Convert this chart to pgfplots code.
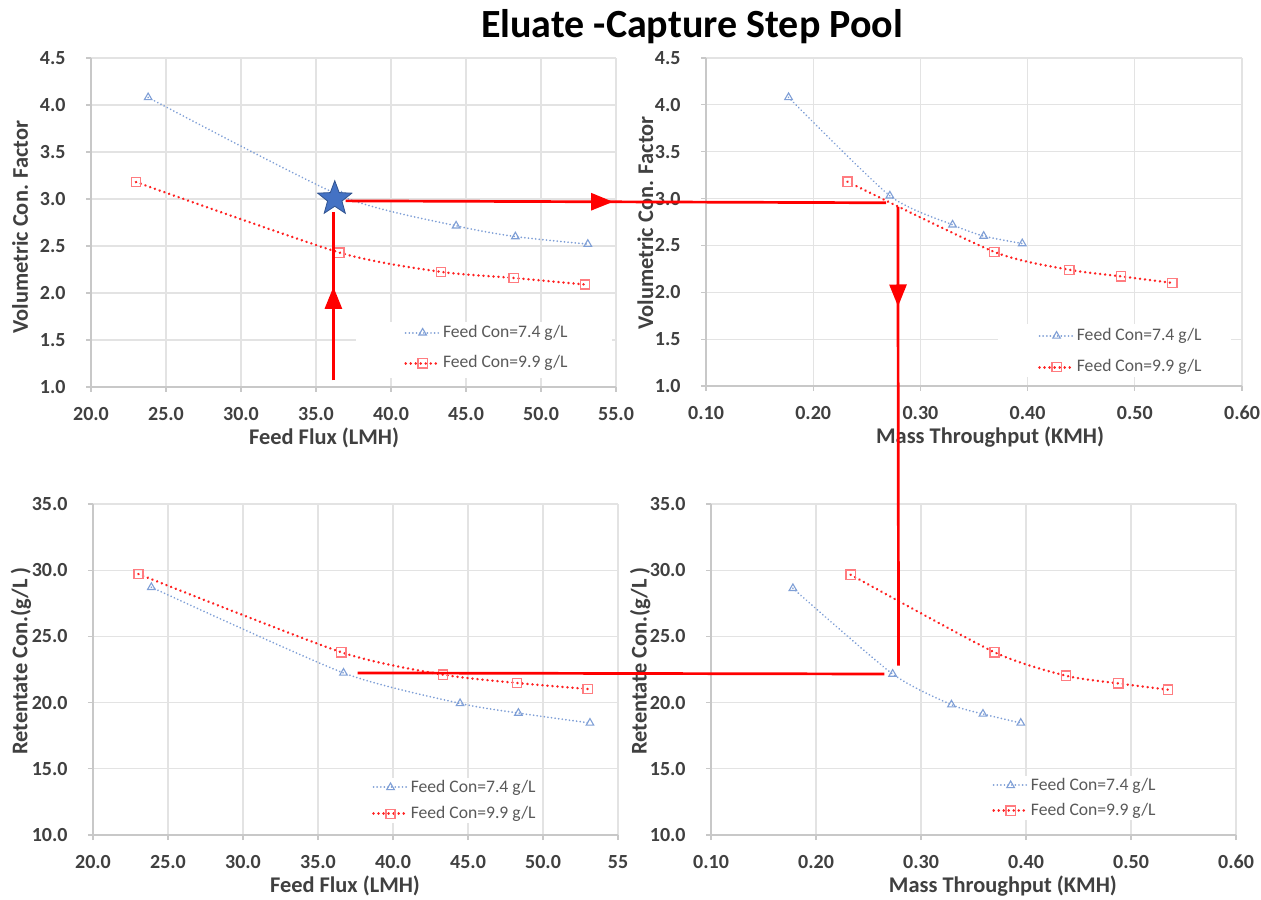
\documentclass[border=0pt]{standalone}
\usepackage{fontspec}
\setmainfont{Carlito}
\usepackage{pgfplots}
\pgfplotsset{compat=1.18}
\usetikzlibrary{arrows.meta,decorations.markings}
\definecolor{gridc}{HTML}{E3E3E3}
\definecolor{axc}{HTML}{C8C8C8}
\definecolor{txt}{HTML}{404040}
\definecolor{legtxt}{HTML}{595959}
\definecolor{sblue}{HTML}{7F9FD6}
\definecolor{sred}{HTML}{FF2020}
\definecolor{mred}{HTML}{FF7C80}
\definecolor{starblue}{HTML}{4472C4}
\definecolor{starline}{HTML}{2F528F}
\definecolor{arrred}{HTML}{FF0000}

\pgfdeclareplotmark{fstar}{%
  \pgfpathmoveto{\pgfpointpolar{90}{\pgfplotmarksize}}%
  \pgfpathlineto{\pgfpointpolar{126}{0.42*\pgfplotmarksize}}%
  \pgfpathlineto{\pgfpointpolar{162}{\pgfplotmarksize}}%
  \pgfpathlineto{\pgfpointpolar{198}{0.42*\pgfplotmarksize}}%
  \pgfpathlineto{\pgfpointpolar{234}{\pgfplotmarksize}}%
  \pgfpathlineto{\pgfpointpolar{270}{0.42*\pgfplotmarksize}}%
  \pgfpathlineto{\pgfpointpolar{306}{\pgfplotmarksize}}%
  \pgfpathlineto{\pgfpointpolar{342}{0.42*\pgfplotmarksize}}%
  \pgfpathlineto{\pgfpointpolar{18}{\pgfplotmarksize}}%
  \pgfpathlineto{\pgfpointpolar{54}{0.42*\pgfplotmarksize}}%
  \pgfpathclose
  \pgfusepathqfillstroke
}

\pgfplotsset{
  panel/.style={
    scale only axis, anchor=south west,
    axis lines=left, axis line style={-, draw=axc, line width=0.6pt},
    grid=major, major grid style={draw=gridc, line width=0.6pt},
    tick align=outside, major tick length=2.5pt,
    tick style={draw=axc, line width=0.6pt},
    xticklabel style={font=\fontsize{10}{12}\selectfont\bfseries, text=txt, anchor=center, yshift=-11pt},
    yticklabel style={font=\fontsize{10}{12}\selectfont\bfseries, text=txt, anchor=east, inner sep=0pt, xshift=-10pt},
    label style={font=\fontsize{11.2}{13}\selectfont\bfseries, text=txt},
    legend style={draw=none, fill=white, font=\fontsize{8.8}{10}\selectfont, text=legtxt,
      anchor=north west, inner sep=0pt, nodes={inner sep=1pt}},
    legend cell align=left,
    legend image code/.code={\draw[mark repeat=2,mark phase=2] plot coordinates {(0pt,0pt) (8.5pt,0pt) (17pt,0pt)};},
  },
  flux/.style={xmin=20, xmax=55, xtick={20,25,30,35,40,45,50,55}},
  mass/.style={xmin=0.1, xmax=0.6, xtick={0.1,0.2,0.3,0.4,0.5,0.6},
    xticklabels={0.10,0.20,0.30,0.40,0.50,0.60}},
  vcf/.style={ymin=1, ymax=4.5, ytick={1,1.5,2,2.5,3,3.5,4,4.5},
    yticklabels={1.0,1.5,2.0,2.5,3.0,3.5,4.0,4.5}, ylabel={Volumetric Con. Factor}},
  ret/.style={ymin=10, ymax=35, ytick={10,15,20,25,30,35},
    yticklabels={10.0,15.0,20.0,25.0,30.0,35.0}, ylabel={Retentate Con.(g/L )}},
  s74/.style={sblue, line width=0.95pt, dash pattern=on 0.01pt off 1.8pt, line cap=round,
    smooth, tension=0.4, mark=triangle, mark size=2.2pt,
    mark options={solid, draw=sblue, fill=white, line width=0.55pt}},
  s99/.style={sred, line width=1.35pt, dash pattern=on 0.01pt off 2.5pt, line cap=round,
    smooth, tension=0.4, mark=square, mark size=2.3pt,
    mark options={solid, draw=mred, fill=none, line width=0.65pt}},
}

\begin{document}
\begin{tikzpicture}
\useasboundingbox (0,0) rectangle (630.5pt,449.5pt);

\node[font=\fontsize{20}{24}\selectfont\bfseries, text=black] at (346pt,436pt) {Eluate -Capture Step Pool};

% Top-left
\begin{axis}[panel, flux, vcf,
  at={(45.5pt,256pt)}, width=262.5pt, height=164.5pt,
  xticklabels={20.0,25.0,30.0,35.0,40.0,45.0,50.0,55.0},
  xlabel={Feed Flux (LMH)},
  xlabel style={at={(axis description cs:0.444,0)}, anchor=center, yshift=-25.5pt},
  ylabel style={at={(axis description cs:-0.135,0.486)}, anchor=center},
  legend style={at={(axis description cs:0.596,0.195)}, row sep=5.6pt}]
\fill[white] (axis cs:37.67,1.1) rectangle (axis cs:54.7,1.69);
\addplot[s74] coordinates {(23.81,4.08) (36.7,3.03) (44.34,2.715) (48.29,2.60) (53.12,2.52)};
\addlegendentry{Feed Con=7.4 g/L}
\addplot[s99] coordinates {(23.0,3.18) (36.56,2.43) (43.32,2.225) (48.18,2.16) (52.93,2.09)};
\addlegendentry{Feed Con=9.9 g/L}
\addplot[only marks, mark=fstar, mark size=9pt, mark options={fill=starblue, draw=starline, line width=0.4pt}, forget plot] coordinates {(36.25,3.003)};
\coordinate (A1) at (axis cs:36.16,1.07);
\coordinate (A2) at (axis cs:36.16,2.86);
\coordinate (H1) at (axis cs:36.97,2.98);
\end{axis}

% Top-right
\begin{axis}[panel, mass, vcf,
  at={(353pt,256.5pt)}, width=268pt, height=164pt,
  xlabel={Mass Throughput (KMH)},
  xlabel style={at={(axis description cs:0.53,0)}, anchor=center, yshift=-25.5pt},
  ylabel style={at={(axis description cs:-0.113,0.497)}, anchor=center},
  legend style={at={(axis description cs:0.619,0.183)}, row sep=6pt}]
\fill[white] (axis cs:0.372,1.1) rectangle (axis cs:0.59,1.66);
\addplot[s74] coordinates {(0.177,4.08) (0.2715,3.03) (0.330,2.72) (0.359,2.60) (0.395,2.52)};
\addlegendentry{Feed Con=7.4 g/L}
\addplot[s99] coordinates {(0.232,3.18) (0.369,2.43) (0.439,2.24) (0.487,2.17) (0.535,2.10)};
\addlegendentry{Feed Con=9.9 g/L}
\coordinate (H2) at (axis cs:0.268,2.955);
\coordinate (V1) at (axis cs:0.279,2.91);
\end{axis}

% Bottom-left
\begin{axis}[panel, flux, ret,
  at={(46.5pt,32pt)}, width=262.5pt, height=165.5pt,
  xticklabels={20.0,25.0,30.0,35.0,40.0,45.0,50.0,55},
  xlabel={Feed Flux (LMH)},
  xlabel style={at={(axis description cs:0.48,0)}, anchor=center, yshift=-25.5pt},
  ylabel style={at={(axis description cs:-0.137,0.526)}, anchor=center},
  legend style={at={(axis description cs:0.531,0.174)}, row sep=3.6pt}]
\addplot[s74] coordinates {(23.89,28.71) (36.70,22.24) (44.47,19.94) (48.36,19.21) (53.13,18.46)};
\addlegendentry{Feed Con=7.4 g/L}
\addplot[s99] coordinates {(23.03,29.71) (36.56,23.80) (43.32,22.11) (48.28,21.48) (52.97,21.03)};
\addlegendentry{Feed Con=9.9 g/L}
\coordinate (B2) at (axis cs:37.64,22.24);
\end{axis}

% Bottom-right
\begin{axis}[panel, mass, ret,
  at={(355.5pt,32pt)}, width=262.5pt, height=165.5pt,
  xlabel={Mass Throughput (KMH)},
  xlabel style={at={(axis description cs:0.556,0)}, anchor=center, yshift=-25.5pt},
  ylabel style={at={(axis description cs:-0.135,0.526)}, anchor=center},
  legend style={at={(axis description cs:0.535,0.18)}, row sep=3pt}]
\addplot[s74] coordinates {(0.178,28.63) (0.273,22.16) (0.329,19.84) (0.359,19.14) (0.395,18.46)};
\addlegendentry{Feed Con=7.4 g/L}
\addplot[s99] coordinates {(0.233,29.66) (0.370,23.80) (0.438,22.03) (0.488,21.45) (0.535,20.98)};
\addlegendentry{Feed Con=9.9 g/L}
\coordinate (V2) at (axis cs:0.2786,22.8);
\coordinate (B1) at (axis cs:0.265,22.16);
\end{axis}

% Red guide arrows
\tikzset{guide/.style={draw=arrred, line width=1.35pt}}
\draw[guide, postaction={decorate}, decoration={markings, mark=at position 0.556 with {\arrow[arrred]{Triangle[length=11pt,width=8.5pt]}}}] (A1) -- (A2);
\draw[guide, postaction={decorate}, decoration={markings, mark=at position 0.495 with {\arrow[arrred]{Triangle[length=11pt,width=8.5pt]}}}] (H1) -- (H2);
\draw[guide, postaction={decorate}, decoration={markings, mark=at position 0.217 with {\arrow[arrred]{Triangle[length=11pt,width=8.5pt]}}}] (V1) -- (V2);
\draw[guide] (B1) -- (B2);
\end{tikzpicture}
\end{document}
